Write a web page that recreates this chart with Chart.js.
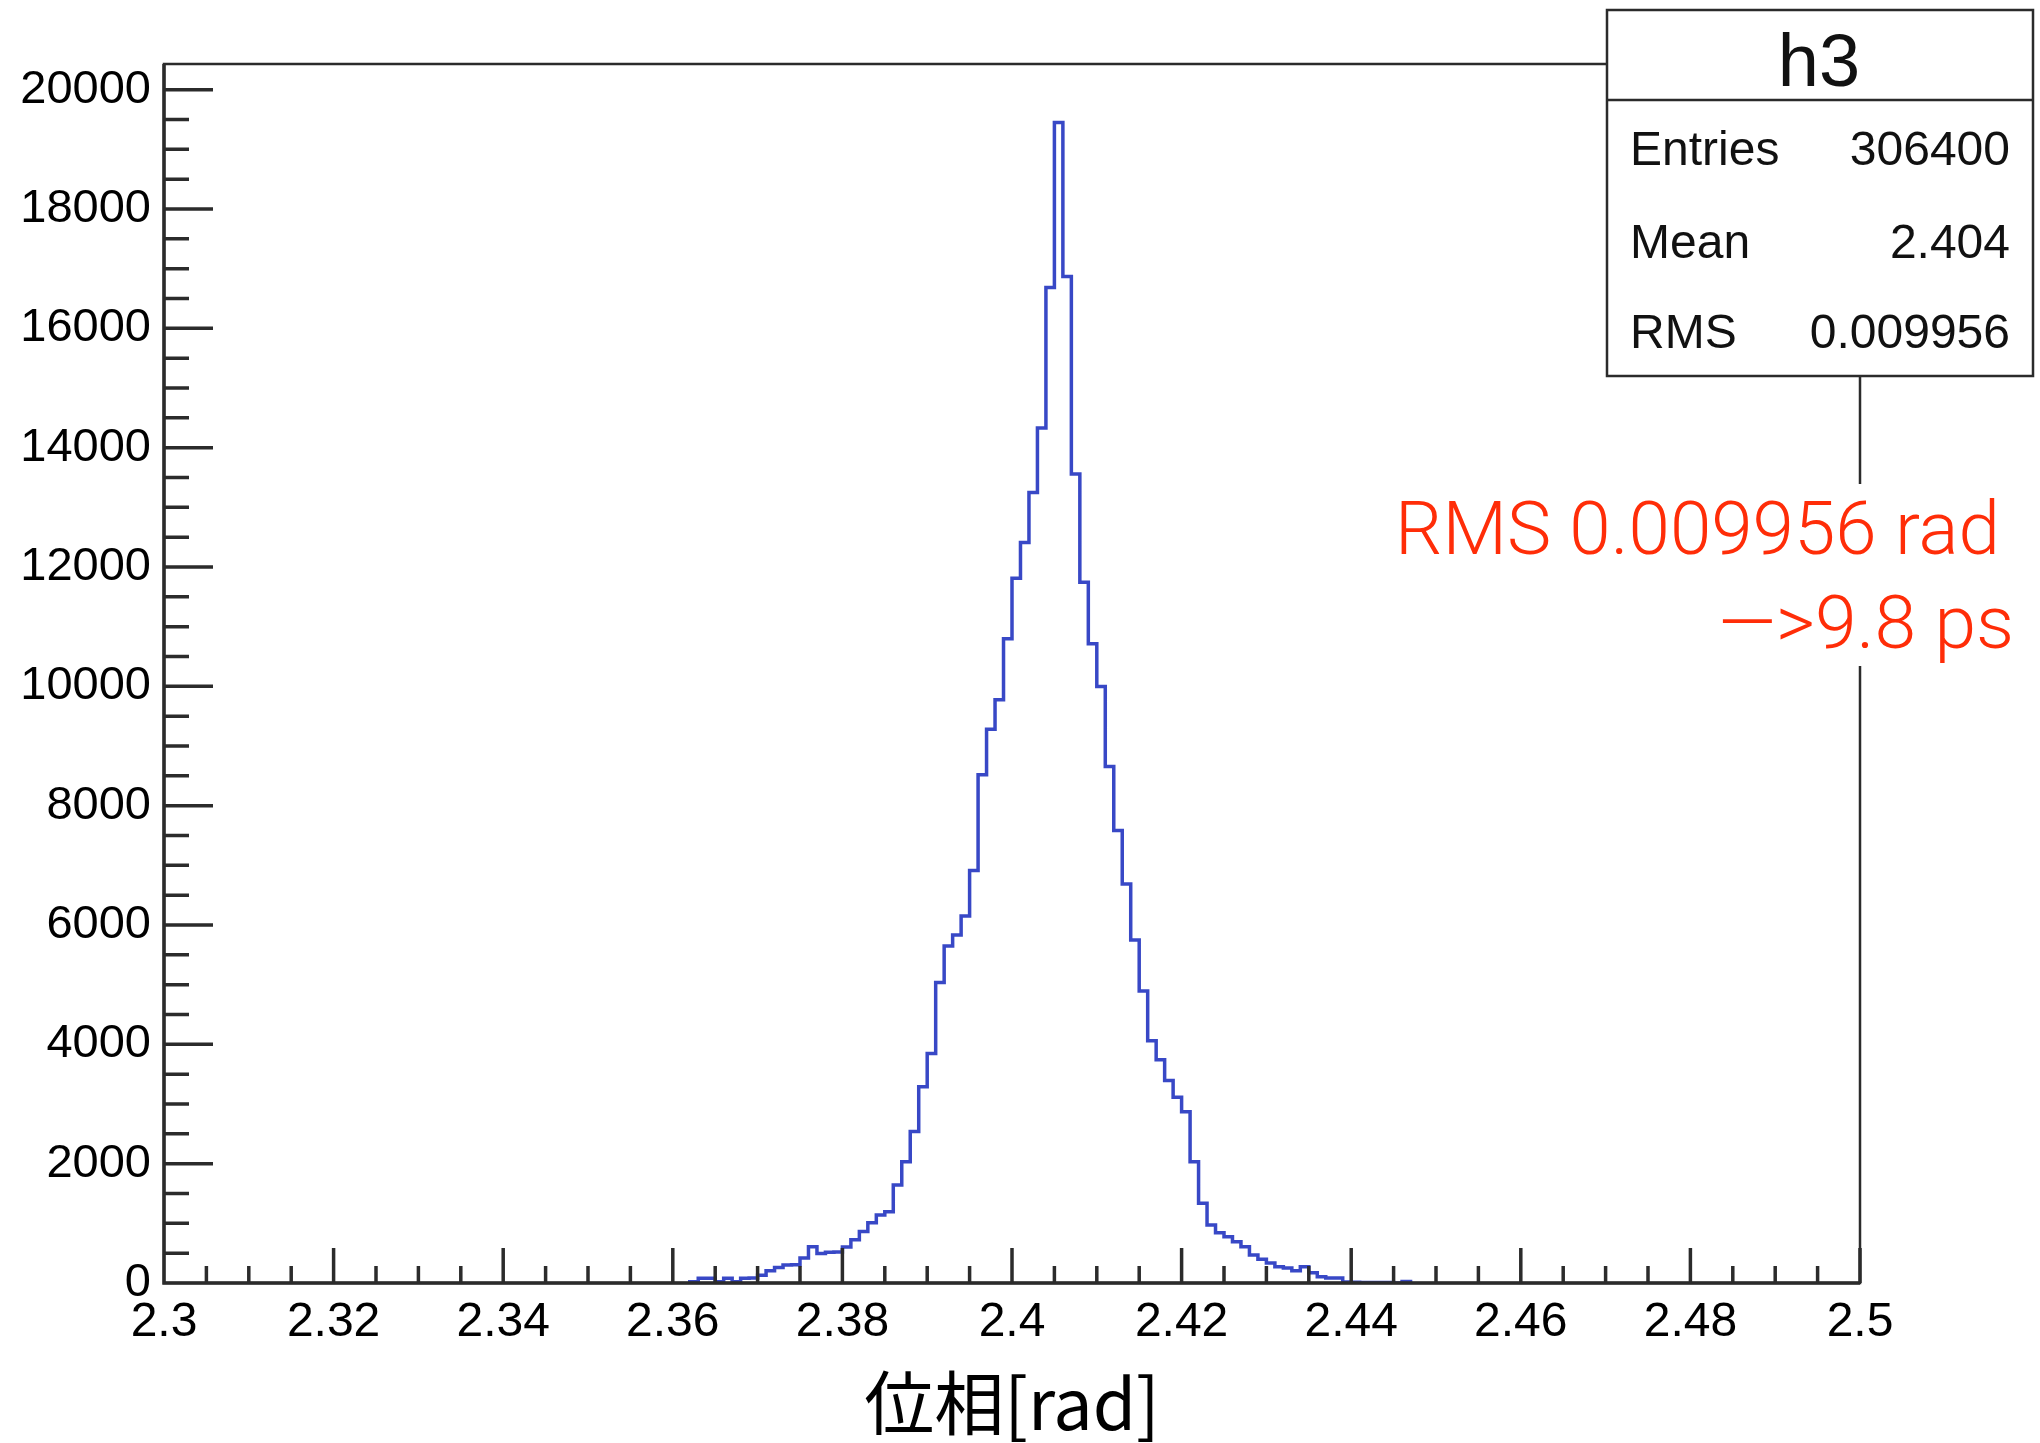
<!DOCTYPE html>
<html>
<head>
<meta charset="utf-8">
<title>h3</title>
<script src="https://cdn.jsdelivr.net/npm/chart.js@4.4.1/dist/chart.umd.min.js"></script>
<style>
  html, body { margin: 0; padding: 0; background: #fff; }
  #wrap { width: 2040px; height: 1443px; }
</style>
</head>
<body>
<div id="wrap"><canvas id="phaseHist" width="2040" height="1443"></canvas></div>
<script>
// h3: phase distribution, 0.001 rad bins (lower edges + counts)
const binLow = [
  2.362, 2.363, 2.364, 2.365, 2.366, 2.367, 2.368, 2.369, 2.370, 2.371,
  2.372, 2.373, 2.374, 2.375, 2.376, 2.377, 2.378, 2.379, 2.380, 2.381,
  2.382, 2.383, 2.384, 2.385, 2.386, 2.387, 2.388, 2.389, 2.390, 2.391,
  2.392, 2.393, 2.394, 2.395, 2.396, 2.397, 2.398, 2.399, 2.400, 2.401,
  2.402, 2.403, 2.404, 2.405, 2.406, 2.407, 2.408, 2.409, 2.410, 2.411,
  2.412, 2.413, 2.414, 2.415, 2.416, 2.417, 2.418, 2.419, 2.420, 2.421,
  2.422, 2.423, 2.424, 2.425, 2.426, 2.427, 2.428, 2.429, 2.430, 2.431,
  2.432, 2.433, 2.434, 2.435, 2.436, 2.437, 2.438, 2.439, 2.440, 2.441,
  2.442, 2.443, 2.444, 2.445, 2.446
];
const binCounts = [
  22, 78, 78, 22, 78, 22, 80, 85, 130, 205,
  260, 300, 307, 420, 609, 495, 515, 520, 603, 726,
  865, 1011, 1140, 1196, 1643, 2034, 2537, 3291, 3845, 5035,
  5649, 5834, 6152, 6912, 8516, 9282, 9773, 10796, 11813, 12411,
  13249, 14328, 16685, 19450, 16870, 13560, 11746, 10712, 9997, 8656,
  7583, 6689, 5750, 4895, 4060, 3740, 3392, 3113, 2872, 2034,
  1336, 972, 844, 777, 693, 609, 470, 397, 335, 274,
  252, 207, 274, 173, 106, 84, 84, 15, 12, 10,
  10, 10, 8, 0, 25
];
const binWidth = 0.001;

const xTicks = [2.3, 2.32, 2.34, 2.36, 2.38, 2.4, 2.42, 2.44, 2.46, 2.48, 2.5];
const yTicks = [0, 2000, 4000, 6000, 8000, 10000, 12000, 14000, 16000, 18000, 20000];

const statTitle = 'h3';
const statNames = ['Entries', 'Mean', 'RMS'];
const statValues = ['306400', '2.404', '0.009956'];

const noteLines = ['RMS 0.009956 rad', '—>9.8 ps'];

const histColor = '#3848c6';
const axisColor = '#2b2b2b';
const noteColor = '#ff2d08';
const rootFont = 'Liberation Sans';

// outline of the histogram as a stepped line
const outline = [{ x: binLow[0], y: 0 }];
binLow.forEach((lo, i) => outline.push({ x: lo, y: binCounts[i] }));
outline.push({ x: binLow[binLow.length - 1] + binWidth, y: 0 });

// frame + inward ticks, drawn over the histogram like ROOT does
const rootFrame = {
  id: 'rootFrame',
  afterDatasetsDraw(chart) {
    const { ctx, chartArea: a, scales: { x, y } } = chart;
    ctx.save();
    ctx.strokeStyle = axisColor;
    ctx.lineWidth = 2.5;
    ctx.strokeRect(a.left, a.top, a.right - a.left, a.bottom - a.top);

    ctx.lineWidth = 3.5;
    ctx.beginPath();
    ctx.moveTo(a.left, a.top);
    ctx.lineTo(a.left, a.bottom);
    ctx.lineTo(a.right, a.bottom);
    for (let k = 0; k <= 40; k++) {
      const v = x.min + k * 0.005;
      const px = x.getPixelForValue(v);
      const len = k % 4 === 0 ? 35 : 17;
      ctx.moveTo(px, a.bottom);
      ctx.lineTo(px, a.bottom - len);
    }
    for (let k = 0; k <= 40; k++) {
      const py = y.getPixelForValue(k * 500);
      const len = k % 4 === 0 ? 49 : 25;
      ctx.moveTo(a.left, py);
      ctx.lineTo(a.left + len, py);
    }
    ctx.stroke();
    ctx.restore();
  }
};

// stats box and the red note on the right
const statsBox = {
  id: 'statsBox',
  afterDraw(chart) {
    const { ctx } = chart;
    ctx.save();

    const bx = 1607, by = 10, bw = 426, bh = 366;
    ctx.fillStyle = '#fff';
    ctx.fillRect(bx, by, bw, bh);
    ctx.strokeStyle = axisColor;
    ctx.lineWidth = 2.5;
    ctx.strokeRect(bx, by, bw, bh);
    ctx.beginPath();
    ctx.moveTo(bx, 100);
    ctx.lineTo(bx + bw, 100);
    ctx.stroke();

    ctx.fillStyle = '#111';
    ctx.textBaseline = 'alphabetic';
    ctx.textAlign = 'center';
    ctx.font = `74px "${rootFont}"`;
    ctx.fillText(statTitle, bx + bw / 2 - 1, 86);

    ctx.font = `48px "${rootFont}"`;
    const rows = [165, 258, 348];
    statNames.forEach((name, i) => {
      ctx.textAlign = 'left';
      ctx.fillText(name, 1630, rows[i]);
      ctx.textAlign = 'right';
      ctx.fillText(statValues[i], 2010, rows[i]);
    });

    // note sits on a white patch that hides the frame line behind it
    ctx.fillStyle = '#fff';
    ctx.fillRect(1385, 484, 650, 182);
    ctx.fillStyle = noteColor;
    ctx.font = `300 75px Roboto, "${rootFont}"`;
    ctx.textAlign = 'left';
    ctx.fillText(noteLines[0], 1395, 554, 605);
    ctx.textAlign = 'right';
    ctx.fillText(noteLines[1], 2014, 648);
    ctx.restore();
  }
};

new Chart(document.getElementById('phaseHist'), {
  type: 'line',
  data: {
    datasets: [{
      data: outline,
      stepped: true,
      borderColor: histColor,
      borderWidth: 3.5,
      pointRadius: 0,
      fill: false,
      tension: 0
    }]
  },
  options: {
    responsive: false,
    animation: false,
    devicePixelRatio: 1,
    layout: { padding: { top: 64, right: 180, left: 0, bottom: 0 } },
    plugins: {
      legend: { display: false },
      tooltip: { enabled: false }
    },
    scales: {
      x: {
        type: 'linear',
        min: 2.3,
        max: 2.5,
        grid: { display: false, drawTicks: false },
        border: { display: false },
        afterBuildTicks: s => { s.ticks = xTicks.map(v => ({ value: v })); },
        afterFit: s => { s.height = 160; },
        ticks: {
          padding: 11,
          color: '#000',
          maxRotation: 0,
          autoSkip: false,
          font: { family: rootFont, size: 48 },
          callback: v => String(v)
        },
        title: {
          display: true,
          text: '位相[rad]',
          color: '#000',
          font: { family: '"Noto Sans CJK JP"', size: 70, lineHeight: 1 },
          padding: { top: 0, bottom: 5 }
        }
      },
      y: {
        type: 'linear',
        min: 0,
        max: 20430,
        grid: { display: false, drawTicks: false },
        border: { display: false },
        afterBuildTicks: s => { s.ticks = yTicks.map(v => ({ value: v })); },
        afterFit: s => { s.width = 164; },
        ticks: {
          padding: 13,
          color: '#000',
          autoSkip: false,
          font: { family: rootFont, size: 47 },
          callback: v => String(v)
        }
      }
    }
  },
  plugins: [rootFrame, statsBox]
});
</script>
</body>
</html>
